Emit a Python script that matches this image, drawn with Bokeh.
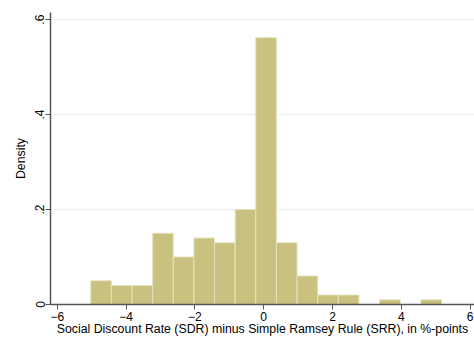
from bokeh.plotting import figure
from bokeh.models import Range1d, FixedTicker
from bokeh.embed import file_html
from bokeh.resources import INLINE

bin_start = -5.03
bin_width = 0.6
density = [0.05, 0.04, 0.04, 0.15, 0.10, 0.14, 0.13, 0.20, 0.562, 0.13,
           0.06, 0.02, 0.02, 0.0, 0.01, 0.0, 0.01]
x_ticks = [-6, -4, -2, 0, 2, 4, 6]
y_ticks = [0, 0.2, 0.4, 0.6]
y_tick_labels = {0: "0", 0.2: ".2", 0.4: ".4", 0.6: ".6"}
x_title = "Social Discount Rate (SDR) minus Simple Ramsey Rule (SRR), in %-points"

lefts = [bin_start + i * bin_width for i in range(len(density))]
rights = [l + bin_width for l in lefts]
keep = [i for i, d in enumerate(density) if d > 0]

p = figure(width=474, height=338, output_backend="svg", toolbar_location=None,
           x_range=Range1d(-6.2, 6.13), y_range=Range1d(0, 0.615),
           min_border_left=50, min_border_right=0, min_border_top=12, min_border_bottom=33)
p.outline_line_color = None
p.background_fill_color = "white"
p.border_fill_color = "white"

p.quad(left=[lefts[i] for i in keep], right=[rights[i] for i in keep],
       bottom=0, top=[density[i] for i in keep],
       fill_color="#c9c17f", line_color="#e6e2bf", line_width=1)

font = "Liberation Sans"
p.xaxis.ticker = FixedTicker(ticks=x_ticks)
p.yaxis.ticker = FixedTicker(ticks=y_ticks)
p.yaxis.major_label_overrides = y_tick_labels
p.yaxis.major_label_orientation = "vertical"
p.xaxis.axis_label = x_title
p.yaxis.axis_label = "Density"
for ax in (p.xaxis, p.yaxis):
    ax.axis_line_color = "#555555"
    ax.axis_line_width = 1.5
    ax.major_tick_line_color = "#555555"
    ax.major_tick_in = 0
    ax.major_tick_out = 5
    ax.minor_tick_line_color = None
    ax.major_label_text_font = font
    ax.major_label_text_font_size = "12px"
    ax.major_label_text_color = "black"
    ax.axis_label_text_font = font
    ax.axis_label_text_font_size = "12.3px"
    ax.axis_label_text_font_style = "normal"
    ax.axis_label_text_color = "black"
p.xaxis.major_label_standoff = 2
p.xaxis.axis_label_standoff = -2
p.yaxis.major_label_standoff = 1
p.yaxis.axis_label_standoff = 5

p.xgrid.grid_line_color = None
p.ygrid.grid_line_color = "#e6eff0"
p.ygrid.grid_line_width = 1

open("out.html", "w").write(file_html(p, INLINE))
